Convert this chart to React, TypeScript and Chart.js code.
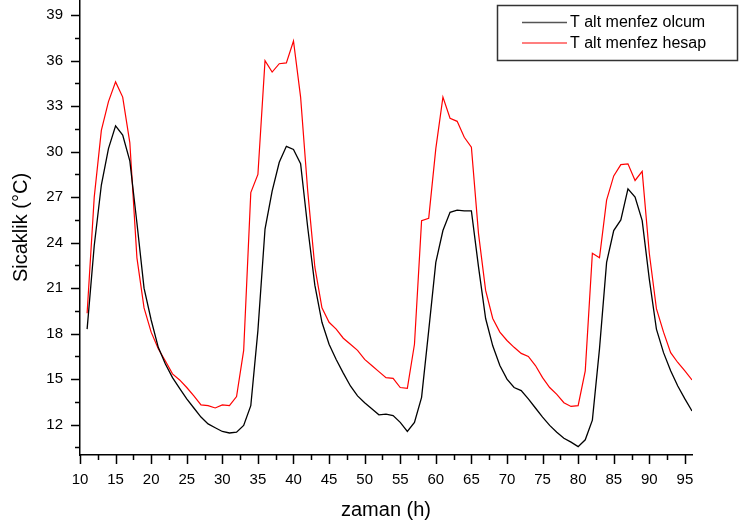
import React, { useEffect, useRef } from "react";
import { Chart, registerables } from "chart.js";

Chart.register(...registerables);

const hours = [
  11, 12, 13, 14, 15, 16, 17, 18, 19, 20, 21, 22, 23, 24, 25, 26, 27, 28, 29, 30,
  31, 32, 33, 34, 35, 36, 37, 38, 39, 40, 41, 42, 43, 44, 45, 46, 47, 48, 49, 50,
  51, 52, 53, 54, 55, 56, 57, 58, 59, 60, 61, 62, 63, 64, 65, 66, 67, 68, 69, 70,
  71, 72, 73, 74, 75, 76, 77, 78, 79, 80, 81, 82, 83, 84, 85, 86, 87, 88, 89, 90,
  91, 92, 93, 94, 95, 96,
];

const olcum = [
  18.3, 23.8, 27.8, 30.2, 31.7, 31.1, 29.4, 25.3, 21.0, 18.9, 17.1, 16.0, 15.1, 14.4, 13.7, 13.1, 12.5, 12.05, 11.8, 11.55,
  11.45, 11.5, 11.95, 13.25, 18.2, 24.9, 27.4, 29.3, 30.35, 30.15, 29.2, 25.0, 21.2, 18.75, 17.3, 16.3, 15.4, 14.55, 13.9, 13.45,
  13.05, 12.65, 12.7, 12.6, 12.15, 11.55, 12.15, 13.8, 18.2, 22.7, 24.8, 26.0, 26.15, 26.1, 26.1, 22.4, 19.0, 17.2, 15.9, 15.0,
  14.45, 14.25, 13.7, 13.1, 12.5, 11.95, 11.5, 11.1, 10.85, 10.55, 11.0, 12.3, 17.0, 22.7, 24.8, 25.5, 27.55, 27.0, 25.45, 21.6,
  18.3, 16.75, 15.55, 14.55, 13.7, 12.9,
];

const hesap = [
  19.35, 27.0, 31.4, 33.3, 34.6, 33.6, 30.6, 23.0, 19.7, 18.1, 17.0, 16.2, 15.35, 14.95, 14.45, 13.9, 13.3, 13.25, 13.1, 13.3,
  13.25, 13.85, 16.9, 27.3, 28.5, 36.0, 35.25, 35.8, 35.85, 37.3, 33.6, 27.4, 22.4, 19.7, 18.75, 18.3, 17.7, 17.3, 16.9, 16.3,
  15.9, 15.5, 15.1, 15.05, 14.45, 14.4, 17.3, 25.45, 25.6, 30.2, 33.6, 32.2, 32.0, 30.95, 30.3, 24.6, 20.85, 19.0, 18.1, 17.55,
  17.1, 16.7, 16.5, 15.9, 15.1, 14.45, 14.0, 13.45, 13.2, 13.25, 15.55, 23.3, 23.0, 26.8, 28.4, 29.15, 29.2, 28.1, 28.7, 23.3,
  19.65, 18.1, 16.75, 16.1, 15.55, 14.95,
];

const xMajorTicks = [10, 15, 20, 25, 30, 35, 40, 45, 50, 55, 60, 65, 70, 75, 80, 85, 90, 95];
const xMinorTicks = [12.5, 17.5, 22.5, 27.5, 32.5, 37.5, 42.5, 47.5, 52.5, 57.5, 62.5, 67.5, 72.5, 77.5, 82.5, 87.5, 92.5];
const yMajorTicks = [12, 15, 18, 21, 24, 27, 30, 33, 36, 39];
const yMinorTicks = [10.5, 13.5, 16.5, 19.5, 22.5, 25.5, 28.5, 31.5, 34.5, 37.5];

const seriesNames = ["T alt menfez olcum", "T alt menfez hesap"];
const xTitle = "zaman (h)";
const yTitle = "Sicaklik (°C)";

const FONT = "'Liberation Sans', Arial, Helvetica, sans-serif";

const tickMarksPlugin = {
  id: "tickMarks",
  afterDraw(chart: any) {
    const ctx = chart.ctx;
    const xs = chart.scales.x;
    const ys = chart.scales.y;
    const area = chart.chartArea;
    ctx.save();
    ctx.strokeStyle = "#000";
    ctx.lineWidth = 1.5;
    ctx.beginPath();
    xMajorTicks.forEach((v) => {
      const px = Math.round(xs.getPixelForValue(v)) + 0.5;
      ctx.moveTo(px, area.bottom);
      ctx.lineTo(px, area.bottom + 9);
    });
    xMinorTicks.forEach((v) => {
      const px = Math.round(xs.getPixelForValue(v)) + 0.5;
      ctx.moveTo(px, area.bottom);
      ctx.lineTo(px, area.bottom + 5);
    });
    yMajorTicks.forEach((v) => {
      const py = Math.round(ys.getPixelForValue(v)) + 0.5;
      ctx.moveTo(area.left, py);
      ctx.lineTo(area.left - 9, py);
    });
    yMinorTicks.forEach((v) => {
      const py = Math.round(ys.getPixelForValue(v)) + 0.5;
      ctx.moveTo(area.left, py);
      ctx.lineTo(area.left - 5, py);
    });
    ctx.stroke();

    // legend box
    ctx.strokeStyle = "#333";
    ctx.lineWidth = 1.5;
    ctx.strokeRect(497.5, 5.5, 240, 55);
    ctx.lineWidth = 1.5;
    ctx.strokeStyle = "#555";
    ctx.beginPath();
    ctx.moveTo(522, 22.5);
    ctx.lineTo(567, 22.5);
    ctx.stroke();
    ctx.strokeStyle = "#ff0000";
    ctx.lineWidth = 1.2;
    ctx.beginPath();
    ctx.moveTo(522, 43);
    ctx.lineTo(567, 43);
    ctx.stroke();
    ctx.fillStyle = "#000";
    ctx.font = `16px ${FONT}`;
    ctx.textBaseline = "middle";
    ctx.textAlign = "left";
    ctx.fillText(seriesNames[0], 570, 22.5);
    ctx.fillText(seriesNames[1], 570, 43.5);
    ctx.restore();
  },
};

export default function App() {
  const ref = useRef<HTMLCanvasElement | null>(null);
  useEffect(() => {
    if (!ref.current) return;
    const chart = new Chart(ref.current, {
      type: "line",
      data: {
        datasets: [
          {
            label: seriesNames[0],
            data: hours.map((h, i) => ({ x: h, y: olcum[i] })),
            borderColor: "#000000",
            borderWidth: 1.3,
            pointRadius: 0,
            tension: 0,
            fill: false,
          },
          {
            label: seriesNames[1],
            data: hours.map((h, i) => ({ x: h, y: hesap[i] })),
            borderColor: "#ff0000",
            borderWidth: 1.2,
            pointRadius: 0,
            tension: 0,
            fill: false,
          },
        ],
      },
      options: {
        animation: false,
        responsive: false,
        maintainAspectRatio: false,
        layout: { padding: { left: 0, right: 48, top: 0, bottom: 0 } },
        plugins: {
          legend: { display: false },
          tooltip: { enabled: false },
        },
        scales: {
          x: {
            type: "linear",
            min: 10,
            max: 96,
            afterBuildTicks: (scale: any) => {
              scale.ticks = xMajorTicks.map((v) => ({ value: v }));
            },
            afterFit: (scale: any) => {
              scale.height = 76;
              scale.paddingLeft = 0;
              scale.paddingRight = 0;
            },
            grid: { display: false, drawTicks: false, tickLength: 0 },
            border: { display: true, color: "#000", width: 1.5 },
            ticks: {
              color: "#000",
              font: { family: FONT, size: 15 },
              padding: 16,
              maxRotation: 0,
              autoSkip: false,
            },
            title: {
              display: true,
              text: xTitle,
              color: "#000",
              font: { family: FONT, size: 20 },
              padding: { top: 0, bottom: 9 },
            },
          },
          y: {
            type: "linear",
            min: 10,
            max: 40,
            afterBuildTicks: (scale: any) => {
              scale.ticks = yMajorTicks.map((v) => ({ value: v }));
            },
            afterFit: (scale: any) => {
              scale.width = 80;
              scale.paddingTop = 0;
              scale.paddingBottom = 0;
            },
            grid: { display: false, drawTicks: false, tickLength: 0 },
            border: { display: true, color: "#000", width: 1.5 },
            ticks: {
              color: "#000",
              font: { family: FONT, size: 15 },
              padding: 17,
              autoSkip: false,
            },
            title: {
              display: true,
              text: yTitle,
              color: "#000",
              font: { family: FONT, size: 20 },
              padding: { top: 9, bottom: 0 },
            },
          },
        },
      },
      plugins: [tickMarksPlugin],
    });
    return () => chart.destroy();
  }, []);

  return (
    <div style={{ position: "fixed", left: 0, top: 0, width: 740, height: 531, background: "#fff" }}>
      <canvas ref={ref} width={740} height={531} style={{ width: 740, height: 531, display: "block" }} />
    </div>
  );
}
